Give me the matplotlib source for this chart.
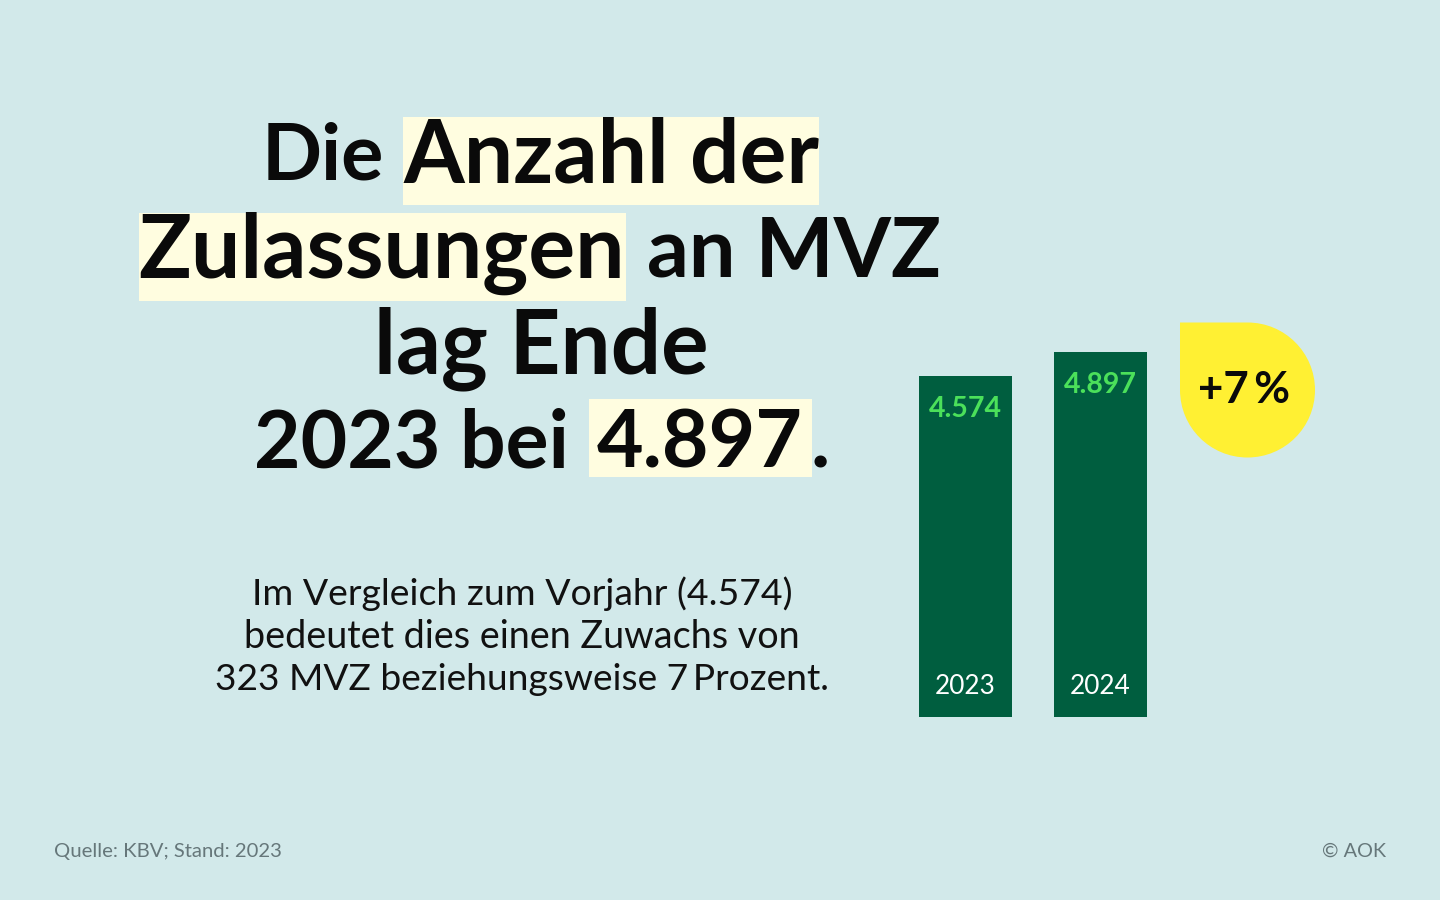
import matplotlib
matplotlib.use("Agg")
import matplotlib.pyplot as plt
from matplotlib.patches import Rectangle, PathPatch
from matplotlib.path import Path

jahre = ["2023", "2024"]
werte = [4574, 4897]
wert_labels = ["4.574", "4.897"]

BG = "#d2e9ea"
GRUEN = "#005e3f"
HELLGRUEN = "#4be05a"
GELB = "#fff033"
MARKER = "#fffde0"
FONT = "Lato"

plt.rcParams['font.family'] = [FONT, 'DejaVu Sans']

fig = plt.figure(figsize=(14.4, 9), dpi=100, facecolor=BG)

# ganze Figur in Pixelkoordinaten
bg = fig.add_axes([0, 0, 1, 1])
bg.set_xlim(0, 1440)
bg.set_ylim(900, 0)
bg.axis('off')

# Marker hinter der Headline
for x0, y0, x1, y1 in [(403, 117, 819, 205), (139, 213, 626, 301), (589, 399, 812, 477)]:
    bg.add_patch(Rectangle((x0, y0), x1 - x0, y1 - y0, color=MARKER, lw=0))

# Headline Wort fuer Wort gesetzt
head = [
    ("Die", 323, 157, 57), ("Anzahl der", 611, 157, 63),
    ("Zulassungen", 382, 253, 63), ("an MVZ", 794, 253, 59.5),
    ("lag Ende", 541, 349, 64),
    ("2023 bei", 411, 445, 58), ("4.897", 700, 445, 58), (".", 820, 445, 58),
]
for txt, x, y, size in head:
    bg.text(x, y, txt, fontsize=size, fontweight='bold', color="#0a0a0a", ha='center', va='center')

sub = ["Im Vergleich zum Vorjahr (4.574)",
       "bedeutet dies einen Zuwachs von",
       "323 MVZ beziehungsweise 7\u2009Prozent."]
for txt, y, size in zip(sub, [594, 637, 679], [26.9, 27.2, 26.7]):
    bg.text(522, y, txt, fontsize=size, color="#111111", ha='center', va='center')

bg.text(54, 851, "Quelle: KBV; Stand: 2023", fontsize=14.6, color="#66777a", ha='left', va='center')
bg.text(1386, 851, "© AOK", fontsize=14.3, color="#66777a", ha='right', va='center')

# Balken
ax = fig.add_axes([0, (900 - 717) / 900, 1, (717 - 352) / 900])
ax.patch.set_alpha(0)
ax.axis('off')
ax.set_xlim(0, 1440)
ax.set_ylim(0, max(werte))
pos = [965.5, 1100]
ax.bar(pos, werte, width=93, color=GRUEN)
for p, w, l, j in zip(pos, werte, wert_labels, jahre):
    ax.annotate(l, (p, w), xytext=(0, -33), textcoords='offset pixels', ha='center', va='center',
                color=HELLGRUEN, fontsize=20.5, fontweight='bold')
    ax.annotate(j, (p, 0), xytext=(0, 31), textcoords='offset pixels', ha='center', va='center',
                color="white", fontsize=18.8)

# Tropfenform +7 %
cx, cy, r = 1247.5, 390, 67.5
k = 0.5523 * r
verts = [(cx - r, cy - r), (cx, cy - r),
         (cx + k, cy - r), (cx + r, cy - k), (cx + r, cy),
         (cx + r, cy + k), (cx + k, cy + r), (cx, cy + r),
         (cx - k, cy + r), (cx - r, cy + k), (cx - r, cy),
         (cx - r, cy - r), (cx - r, cy - r)]
codes = [Path.MOVETO, Path.LINETO,
         Path.CURVE4, Path.CURVE4, Path.CURVE4,
         Path.CURVE4, Path.CURVE4, Path.CURVE4,
         Path.CURVE4, Path.CURVE4, Path.CURVE4,
         Path.LINETO, Path.CLOSEPOLY]
bg.add_patch(PathPatch(Path(verts, codes), facecolor=GELB, lw=0))
bg.text(1244, 390, "+7\u2009%", fontsize=31.5, fontweight='bold', color="#0a0a0a", ha='center', va='center')

fig.savefig("out.png", dpi=100, facecolor=BG)
